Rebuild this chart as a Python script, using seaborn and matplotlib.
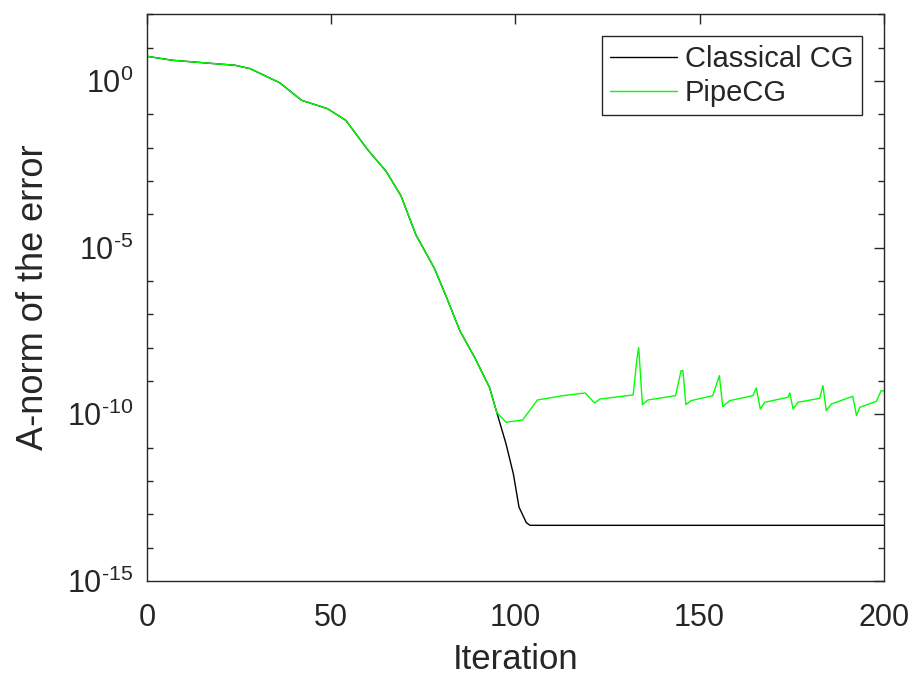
import numpy as np
import pandas as pd
import matplotlib
matplotlib.use("Agg")
import matplotlib.pyplot as plt
import matplotlib.ticker as mticker
import seaborn as sns

# iterations and log10 of the A-norm error
shared_iter = [0, 7, 16, 24, 28, 36, 42, 49, 54, 60, 65, 69, 73, 78, 81, 85, 89, 93, 95]
shared_exp = [0.74, 0.62, 0.54, 0.47, 0.37, -0.05, -0.58, -0.83, -1.18, -2.07, -2.72,
              -3.45, -4.61, -5.61, -6.40, -7.50, -8.30, -9.19, -9.95]

cg_tail_iter = [97.5, 99.5, 101, 103, 104, 200]
cg_tail_exp = [-10.89, -11.8, -12.78, -13.25, -13.33, -13.33]

pipe_tail_iter = [97.5, 102, 106, 113, 119, 121.5, 123, 132, 133, 133.5, 134.5, 136,
                  143.5, 145, 145.5, 146.3, 147.7, 153.6, 155.4, 156.3, 158.2,
                  164.5, 165.4, 166.5, 167.7, 174, 174.5, 175.4, 176.7,
                  182.6, 183.5, 184.4, 185.8, 191.6, 192.6, 193.5, 198, 199.3, 200]
pipe_tail_exp = [-10.24, -10.17, -9.57, -9.44, -9.36, -9.66, -9.54, -9.42, -8.35, -8.0, -9.71, -9.57,
                 -9.44, -8.69, -8.69, -9.71, -9.59, -9.44, -8.84, -9.77, -9.59,
                 -9.44, -9.21, -9.84, -9.64, -9.49, -9.36, -9.84, -9.64,
                 -9.52, -9.14, -9.89, -9.69, -9.46, -10.04, -9.79, -9.61, -9.29, -9.3]

y_major = [1e-15, 1e-10, 1e-5, 1e0]
x_major = [0, 50, 100, 150, 200]

df_cg = pd.DataFrame({"it": shared_iter + cg_tail_iter,
                      "err": 10.0 ** np.array(shared_exp + cg_tail_exp)})
df_pipe = pd.DataFrame({"it": shared_iter + pipe_tail_iter,
                        "err": 10.0 ** np.array(shared_exp + pipe_tail_exp)})

sns.set_theme(style="white")
plt.rcParams["font.family"] = ["Liberation Sans", "DejaVu Sans"]
plt.rcParams["mathtext.fontset"] = "custom"
plt.rcParams["mathtext.rm"] = "Liberation Sans"
plt.rcParams["mathtext.it"] = "Liberation Sans"


def pow_label(v, pos):
    e = int(round(np.log10(v)))
    if e < 0:
        return r"10$^{\text{-}%d}$" % (-e)
    return r"10$^{%d}$" % e


fig = plt.figure(figsize=(9.12, 6.8), dpi=100)
ax = fig.add_axes([0.161, 0.1456, 0.808, 0.8334])

sns.lineplot(data=df_cg, x="it", y="err", color="black", linewidth=1.0,
             estimator=None, label="Classical CG", ax=ax)
sns.lineplot(data=df_pipe, x="it", y="err", color="#00ff00", linewidth=1.0,
             estimator=None, label="PipeCG", ax=ax)

ax.set_yscale("log")
ax.set_xlim(0, 200)
ax.set_ylim(1e-15, 1e2)
ax.set_xticks(x_major)
ax.yaxis.set_major_locator(mticker.FixedLocator(y_major))
ax.yaxis.set_major_formatter(mticker.FuncFormatter(pow_label))
ax.yaxis.set_minor_locator(mticker.LogLocator(base=10, subs=(1.0,), numticks=40))
ax.yaxis.set_minor_formatter(mticker.NullFormatter())

ax.tick_params(axis="both", which="major", direction="in", length=7, width=1,
               top=True, right=True, labelsize=22, colors="#262626")
ax.tick_params(axis="x", which="major", pad=16)
ax.tick_params(axis="y", which="major", pad=10)
ax.tick_params(axis="y", which="minor", direction="in", length=4, width=1,
               left=True, right=True)
for sp in ax.spines.values():
    sp.set_color("#262626")
    sp.set_linewidth(1.0)

ax.set_xlabel("Iteration", fontsize=25, color="#262626", labelpad=7)
ax.set_ylabel("A-norm of the error", fontsize=26, color="#262626", labelpad=11)

leg = ax.legend(loc="upper right", fontsize=21, frameon=True, fancybox=False,
                edgecolor="#262626", framealpha=1, borderaxespad=0.75,
                handlelength=2.3, handletextpad=0.25, borderpad=0.3, labelspacing=0.2)
leg.get_frame().set_linewidth(1.0)

fig.savefig("out.png", dpi=100)
